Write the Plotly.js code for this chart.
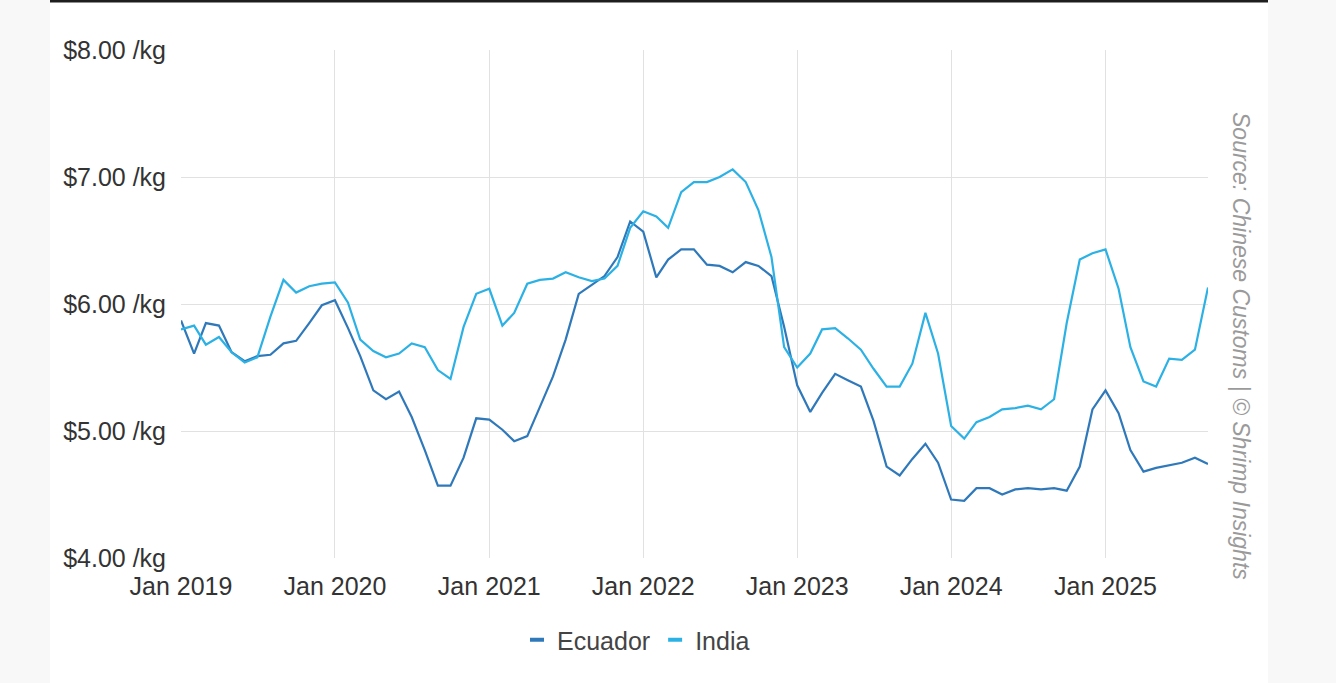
<!DOCTYPE html>
<html>
<head>
<meta charset="utf-8">
<script src="https://cdn.plot.ly/plotly-3.0.1.min.js"></script>
<style>
  html, body { margin: 0; padding: 0; background: #f8f8f8; }
  #chart { width: 1336px; height: 683px; }
</style>
</head>
<body>
<div id="chart"></div>
<script>
// Monthly average import price (USD/kg), Jan 2019 .. Sep 2025
const startMonth = '2019-01';
const ecuador = [
  5.87, 5.61, 5.85, 5.83, 5.62, 5.55, 5.59, 5.60, 5.69, 5.71, 5.85, 5.99,
  6.03, 5.81, 5.59, 5.32, 5.25, 5.31, 5.11, 4.85, 4.57, 4.57, 4.79, 5.10,
  5.09, 5.01, 4.92, 4.96, 5.19, 5.43, 5.72, 6.08, 6.15, 6.22, 6.37, 6.65,
  6.57, 6.21, 6.35, 6.43, 6.43, 6.31, 6.30, 6.25, 6.33, 6.30, 6.22, 5.82,
  5.36, 5.15, 5.30, 5.45, 5.40, 5.35, 5.08, 4.72, 4.65, 4.78, 4.90, 4.75,
  4.46, 4.45, 4.55, 4.55, 4.50, 4.54, 4.55, 4.54, 4.55, 4.53, 4.72, 5.17,
  5.32, 5.14, 4.85, 4.68, 4.71, 4.73, 4.75, 4.79, 4.74
];
const india = [
  5.80, 5.83, 5.68, 5.74, 5.62, 5.54, 5.58, 5.90, 6.19, 6.09, 6.14, 6.16,
  6.17, 6.01, 5.72, 5.63, 5.58, 5.61, 5.69, 5.66, 5.48, 5.41, 5.82, 6.08,
  6.12, 5.83, 5.93, 6.16, 6.19, 6.20, 6.25, 6.21, 6.18, 6.20, 6.30, 6.60,
  6.73, 6.69, 6.60, 6.88, 6.96, 6.96, 7.00, 7.06, 6.96, 6.74, 6.37, 5.66,
  5.50, 5.61, 5.80, 5.81, 5.73, 5.64, 5.49, 5.35, 5.35, 5.53, 5.93, 5.61,
  5.04, 4.94, 5.07, 5.11, 5.17, 5.18, 5.20, 5.17, 5.25, 5.85, 6.35, 6.40,
  6.43, 6.12, 5.66, 5.39, 5.35, 5.57, 5.56, 5.64, 6.13
];
const seriesNames = ['Ecuador', 'India'];
const seriesColors = ['#2f79bb', '#2cb1e5'];
const sourceText = 'Source: Chinese Customs | © Shrimp Insights';

// month dates
const months = [];
(function () {
  let y = parseInt(startMonth.slice(0, 4), 10), m = parseInt(startMonth.slice(5), 10);
  for (let i = 0; i < ecuador.length; i++) {
    months.push(y + '-' + String(m).padStart(2, '0') + '-01');
    m++; if (m > 12) { m = 1; y++; }
  }
})();

const series = [ecuador, india];
const traces = [];
series.forEach((vals, i) => {
  traces.push({
    x: months, y: vals, type: 'scatter', mode: 'lines', name: seriesNames[i],
    line: { color: seriesColors[i], width: 2.2 }, showlegend: false,
    hovertemplate: '%{x|%b %Y}: $%{y:.2f} /kg<extra>' + seriesNames[i] + '</extra>'
  });
});
// legend entries (short dash symbols)
series.forEach((vals, i) => {
  traces.push({
    x: [null], y: [null], type: 'scatter', mode: 'markers', name: seriesNames[i],
    marker: { symbol: 'line-ew', size: 10, color: seriesColors[i], line: { color: seriesColors[i], width: 4 } },
    showlegend: true, hoverinfo: 'skip'
  });
});

// geometry helpers (plot area 181..1208 x, 50..558 y)
const L = 181, R = 1208, T = 50, B = 558, W = 1336, H = 683;
const px = v => (v - L) / (R - L);
const py = v => (B - v) / (B - T);

const layout = {
  width: W, height: H,
  margin: { l: L, r: W - R, t: T, b: H - B, pad: 0 },
  paper_bgcolor: '#f8f8f8',
  plot_bgcolor: 'rgba(0,0,0,0)',
  font: { family: 'Liberation Sans, Arial, sans-serif', color: '#333' },
  xaxis: {
    type: 'date',
    range: ['2019-01-01', '2025-09-01'],
    tick0: '2019-01-01', dtick: 'M12', tickformat: '%b %Y',
    showgrid: true, gridcolor: '#e1e1e1', gridwidth: 1,
    zeroline: false, showline: false, ticks: '',
    tickfont: { family: 'Liberation Sans, Arial, sans-serif', size: 25, color: '#333' },
    ticklabelstandoff: 11
  },
  yaxis: {
    range: [4, 8], dtick: 1, tick0: 4,
    tickprefix: '$', tickformat: '.2f', ticksuffix: ' /kg',
    showgrid: true, gridcolor: '#e1e1e1', gridwidth: 1,
    zeroline: false, showline: false, ticks: '',
    tickfont: { family: 'Liberation Sans, Arial, sans-serif', size: 25, color: '#333' },
    ticklabelstandoff: 14
  },
  showlegend: true,
  legend: {
    orientation: 'h', x: px(636), xanchor: 'center', y: py(640), yanchor: 'middle',
    font: { family: 'Liberation Sans, Arial, sans-serif', size: 25, color: '#444' },
    bgcolor: 'rgba(0,0,0,0)', itemwidth: 30, tracegroupgap: 0
  },
  shapes: [
    { type: 'rect', xref: 'paper', yref: 'paper', x0: px(50), x1: px(1268), y0: py(H), y1: py(0),
      fillcolor: '#ffffff', line: { width: 0 }, layer: 'below' },
    { type: 'rect', xref: 'paper', yref: 'paper', x0: px(50), x1: px(1268), y0: py(2.5), y1: py(0),
      fillcolor: '#1e1e1e', line: { width: 0 }, layer: 'above' }
  ],
  annotations: [
    { text: sourceText, xref: 'paper', yref: 'paper', x: px(1241), y: py(346),
      xanchor: 'center', yanchor: 'middle', textangle: 90, showarrow: false,
      font: { family: 'Liberation Sans, Arial, sans-serif', size: 23, color: '#9a9a9a', style: 'italic' } }
  ]
};

Plotly.newPlot('chart', traces, layout, { displayModeBar: false });
</script>
</body>
</html>
